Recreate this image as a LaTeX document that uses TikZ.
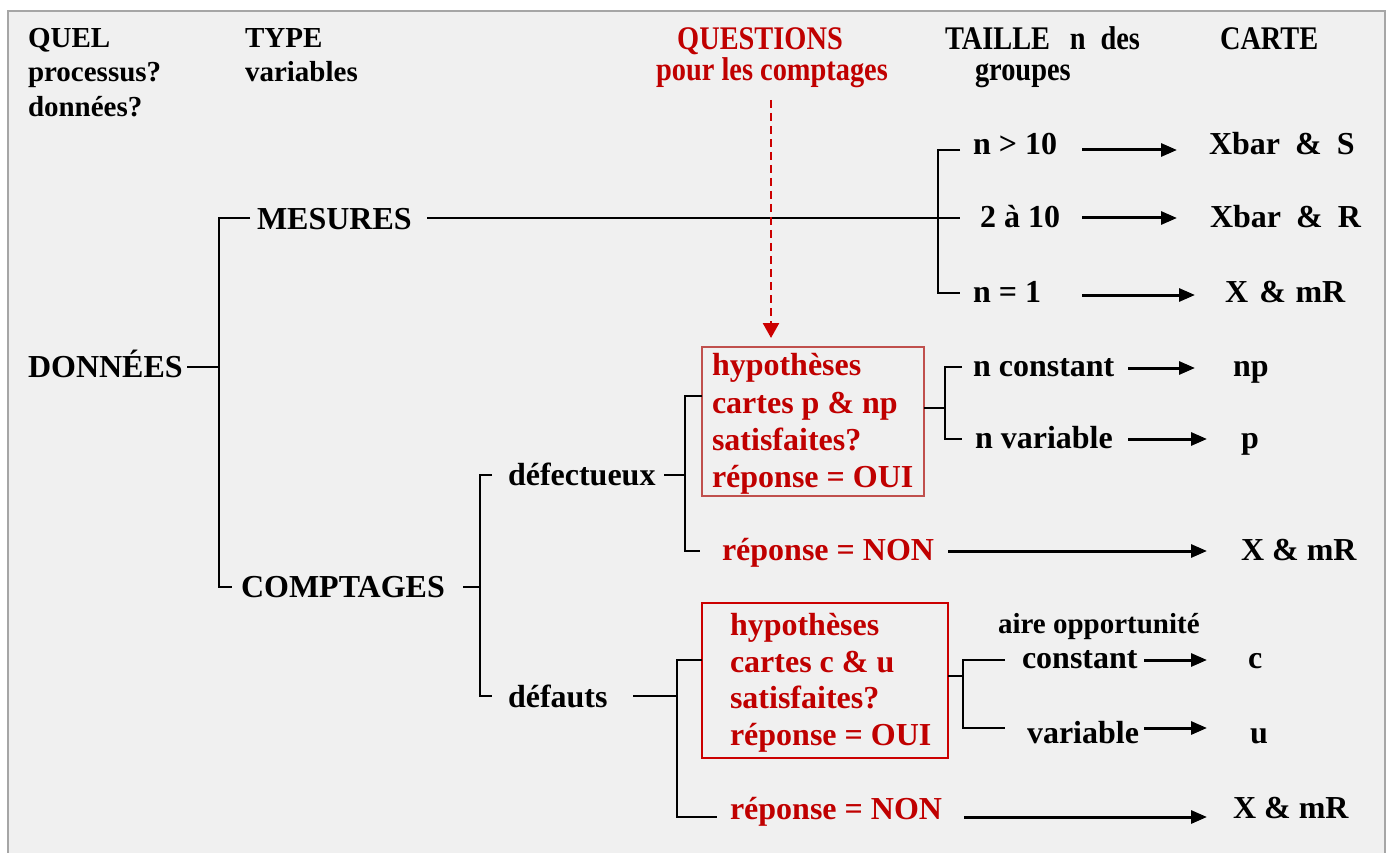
\documentclass[tikz,border=0pt]{standalone}
\usepackage{fontspec}
\setmainfont{Liberation Serif}
\newfontfamily\condfont[FakeStretch=0.86]{Liberation Serif}
\usetikzlibrary{arrows.meta}
\definecolor{bgc}{HTML}{F0F0F0}
\definecolor{framec}{HTML}{A6A6A6}
\definecolor{rtext}{HTML}{C00000}
\definecolor{boxa}{HTML}{C0504D}
\definecolor{boxb}{HTML}{CC0000}
\begin{document}
\begin{tikzpicture}[x=1pt,y=-1pt,
  lbl/.style={anchor=base west, inner sep=0pt, outer sep=0pt, font=\bfseries\fontsize{32}{37}\selectfont},
  hdr/.style={anchor=base west, inner sep=0pt, outer sep=0pt, font=\bfseries\fontsize{29}{34}\selectfont},
  cond/.style={anchor=base west, inner sep=0pt, outer sep=0pt, font=\condfont\bfseries\fontsize{33}{38}\selectfont},
  redtxt/.style={text=rtext},
  link/.style={line width=2.2pt, draw=black},
  arr/.style={line width=3pt, draw=black, -{Triangle[length=16pt,width=13pt]}},
  qbox/.style={draw, line width=1.8pt, inner sep=0pt, outer sep=0pt},
]
\useasboundingbox (0,0) rectangle (1387,853);
\fill[white] (0,0) rectangle (1387,853);
\begin{scope}
\clip (0,0) rectangle (1387,853);
\draw[fill=bgc, draw=framec, line width=2pt] (8,11) rectangle (1385,880);
\end{scope}

% headers
\node[hdr] (q1) at (28,48) {QUEL};
\node[hdr] (q2) at (28,82) {processus?};
\node[hdr] (q3) at (28,117) {données?};
\node[hdr] (t1) at (245,48) {TYPE};
\node[hdr] (t2) at (245,82) {variables};
\node[cond, redtxt, anchor=base] (qs1) at (760,50) {QUESTIONS};
\node[cond, redtxt, anchor=base] (qs2) at (772,81) {pour les comptages};
\node[cond] (ta1) at (945,50) {TAILLE\hspace{0.6em}n\hspace{0.45em}des};
\node[cond] (ta2) at (975,81) {groupes};
\node[cond] (ca) at (1220,50) {CARTE};

% main labels
\node[lbl] (donnees) at (28,377) {DONNÉES};
\node[lbl] (mesures) at (257,230) {MESURES};
\node[lbl] (comptages) at (241,597) {COMPTAGES};
\node[lbl] (n10) at (973,155) {n > 10};
\node[lbl] (n210) at (980,228) {2 à 10};
\node[lbl] (n1) at (973,302) {n = 1};
\node[lbl] (xs) at (1209,155) {Xbar\hspace{0.47em}\&\hspace{0.47em}S};
\node[lbl] (xr) at (1210,228) {Xbar\hspace{0.47em}\&\hspace{0.47em}R};
\node[lbl] (xm1) at (1225,302) {X\hspace{0.35em}\&\hspace{0.3em}mR};
\node[lbl] (dfx) at (508,485) {défectueux};
\node[lbl] (dft) at (508,707) {défauts};
\node[lbl] (nc) at (973,376) {n constant};
\node[lbl] (nv) at (975,448) {n variable};
\node[lbl] (cnp) at (1233,376) {np};
\node[lbl] (cp) at (1241,448) {p};
\node[lbl, redtxt] (non1) at (722,560) {réponse = NON};
\node[lbl] (xm2) at (1241,560) {X \& mR};
\node[hdr] (aire) at (998,633) {aire opportunité};
\node[lbl] (cst) at (1022,668) {constant};
\node[lbl] (cc) at (1248,668) {c};
\node[lbl] (vr) at (1027,743) {variable};
\node[lbl] (cu) at (1250,743) {u};
\node[lbl, redtxt] (non2) at (730,819) {réponse = NON};
\node[lbl] (xm3) at (1233,818) {X \& mR};

% question boxes
\node[qbox, draw=boxa, minimum width=222pt, minimum height=149pt] (box1) at (813,421.5) {};
\node[lbl, redtxt] (b1l1) at (712,375) {hypothèses};
\node[lbl, redtxt] (b1l2) at (712,413) {cartes p \& np};
\node[lbl, redtxt] (b1l3) at (712,450) {satisfaites?};
\node[lbl, redtxt] (b1l4) at (712,487) {réponse = OUI};
\node[qbox, draw=boxb, minimum width=246pt, minimum height=155pt] (box2) at (825,680.5) {};
\node[lbl, redtxt] (b2l1) at (730,635) {hypothèses};
\node[lbl, redtxt] (b2l2) at (730,672) {cartes c \& u};
\node[lbl, redtxt] (b2l3) at (730,708) {satisfaites?};
\node[lbl, redtxt] (b2l4) at (730,745) {réponse = OUI};

% named coordinates
\coordinate (dout) at (187,367);
\coordinate (dj) at (219,367);
\coordinate (mesin) at (250,218);
\coordinate (cptin) at (232,587);
\coordinate (mesout) at (427,218);
\coordinate (sj) at (938,218);
\coordinate (s1in) at (960,150);
\coordinate (s2in) at (960,218);
\coordinate (s3in) at (960,293);
\coordinate (cptout) at (463,587);
\coordinate (cj) at (480,587);
\coordinate (dfxin) at (492,475);
\coordinate (dftin) at (492,696);
\coordinate (dfxout) at (664,475);
\coordinate (dfxj) at (685,475);
\coordinate (b1in) at (box1.west |- 0,396);
\coordinate (non1in) at (700,551);
\coordinate (b1out) at (box1.east |- 0,408);
\coordinate (bj1) at (945,408);
\coordinate (ncin) at (962,367);
\coordinate (nvin) at (962,439);
\coordinate (dftout) at (633,696);
\coordinate (dftj) at (677,696);
\coordinate (b2in) at (box2.west |- 0,660);
\coordinate (non2in) at (717,817);
\coordinate (b2out) at (box2.east |- 0,676);
\coordinate (bj2) at (963,676);
\coordinate (csin) at (1005,660);
\coordinate (vrin) at (1005,728);

% tree links
\draw[link] (dout) -- (dj);
\draw[link] (mesin) -| (dj) |- (cptin);
\draw[link] (mesout) -- (s2in);
\draw[link] (s1in) -| (sj) |- (s3in);
\draw[link] (cptout) -- (cj);
\draw[link] (dfxin) -| (cj) |- (dftin);
\draw[link] (dfxout) -- (dfxj);
\draw[link] (b1in) -| (dfxj) |- (non1in);
\draw[link] (b1out) -- (bj1);
\draw[link] (ncin) -| (bj1) |- (nvin);
\draw[link] (dftout) -- (dftj);
\draw[link] (b2in) -| (dftj) |- (non2in);
\draw[link] (b2out) -- (bj2);
\draw[link] (csin) -| (bj2) |- (vrin);

% arrows
\coordinate (a1s) at (1082,150); \coordinate (a1e) at (1177,150);
\coordinate (a2s) at (1082,218); \coordinate (a2e) at (1177,218);
\coordinate (a3s) at (1082,295); \coordinate (a3e) at (1195,295);
\coordinate (a4s) at (1128,368); \coordinate (a4e) at (1195,368);
\coordinate (a5s) at (1128,439); \coordinate (a5e) at (1207,439);
\coordinate (a6s) at (948,551);  \coordinate (a6e) at (1207,551);
\coordinate (a7s) at (1144,660); \coordinate (a7e) at (1207,660);
\coordinate (a8s) at (1144,728); \coordinate (a8e) at (1207,728);
\coordinate (a9s) at (964,817);  \coordinate (a9e) at (1207,817);
\draw[arr] (a1s) -- (a1e);
\draw[arr] (a2s) -- (a2e);
\draw[arr] (a3s) -- (a3e);
\draw[arr] (a4s) -- (a4e);
\draw[arr] (a5s) -- (a5e);
\draw[arr] (a6s) -- (a6e);
\draw[arr] (a7s) -- (a7e);
\draw[arr] (a8s) -- (a8e);
\draw[arr] (a9s) -- (a9e);

% dashed question arrow
\coordinate (qa) at (771,100);
\coordinate (qb) at (box1.north -| 771,0);
\draw[draw=boxb, line width=2.6pt, dash pattern=on 8pt off 5pt, -{Triangle[length=15pt,width=16pt]}, shorten >=9pt] (qa) -- (qb);
\end{tikzpicture}
\end{document}
